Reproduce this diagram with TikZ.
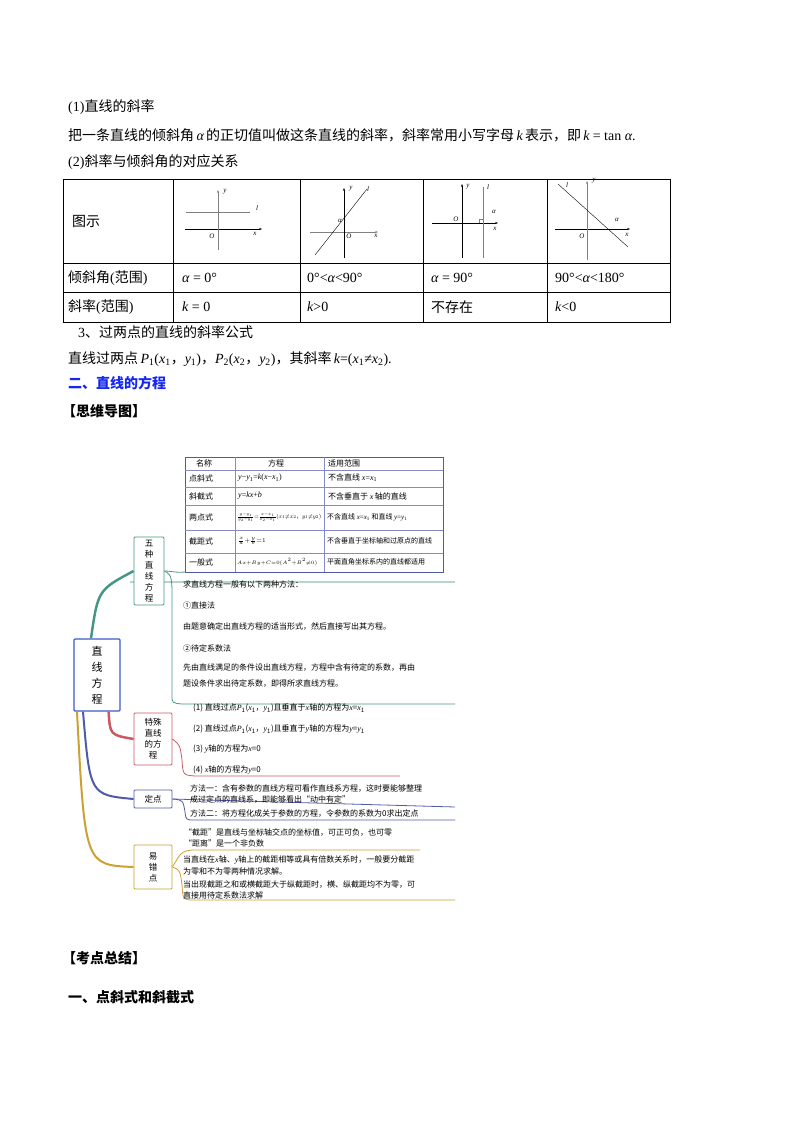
\documentclass[tikz,border=0pt]{standalone}
\usepackage{fontspec}
\setmainfont{Liberation Serif}
\newfontfamily\cjk{Noto Sans CJK SC}
\usetikzlibrary{arrows.meta}
\definecolor{teal1}{RGB}{70,150,135}
\definecolor{red1}{RGB}{200,90,100}
\definecolor{blu1}{RGB}{80,90,170}
\definecolor{gold1}{RGB}{205,160,50}
\definecolor{rootb}{RGB}{60,90,200}
\definecolor{hblue}{RGB}{20,40,240}
\tikzset{
 txt/.style={anchor=west,inner sep=0pt,font=\cjk\fontsize{14}{16}\selectfont},
 bt/.style={txt,font=\cjk\bfseries\fontsize{14}{16}\selectfont},
 mm/.style={anchor=west,inner sep=0pt,font=\cjk\fontsize{8}{10}\selectfont},
 bx/.style={draw,thick,rounded corners=1pt,fill=white,align=center,font=\cjk\fontsize{8.5}{11}\selectfont,inner sep=2pt},
 ax/.style={-{Stealth[length=3pt]},line width=0.6pt},
 sm/.style={inner sep=0pt,font=\itshape\fontsize{7}{8}\selectfont}
}
\begin{document}
\begin{tikzpicture}[x=1pt,y=-1pt]
\useasboundingbox (0,0) rectangle (800,1132);
% top text
\node[txt] (t1) at (68,107) {\rmfamily(1)\cjk 直线的斜率};
\node[txt] (t2) at (68,135) {把一条直线的倾斜角\,{\rmfamily\itshape α}\,的正切值叫做这条直线的斜率，斜率常用小写字母\,{\rmfamily\itshape k}\,表示，即\,{\rmfamily\itshape k} {\rmfamily = tan \itshape α}{\rmfamily .}};
\node[txt] (t3) at (68,162) {\rmfamily(2)\cjk 斜率与倾斜角的对应关系};
% table
\draw[line width=0.6pt] (63,179) rectangle (670,322);
\foreach \x in {173,300,423,547} \draw[line width=0.6pt] (\x,179)--(\x,322);
\draw[line width=0.6pt] (63,263)--(670,263) (63,292)--(670,292);
\node[txt] (c1) at (72,221) {图示};
\node[txt] (c2) at (68,278) {倾斜角\rmfamily(\cjk 范围\rmfamily)};
\node[txt] (c3) at (68,307) {斜率\rmfamily(\cjk 范围\rmfamily)};
\node[txt] (d1) at (182,278) {\rmfamily\itshape α\upshape\ = 0°};
\node[txt] (d2) at (307,278) {\rmfamily 0°<\itshape α\upshape<90°};
\node[txt] (d3) at (431,278) {\rmfamily\itshape α\upshape\ = 90°};
\node[txt] (d4) at (555,278) {\rmfamily 90°<\itshape α\upshape<180°};
\node[txt] (e1) at (182,307) {\rmfamily\itshape k\upshape\ = 0};
\node[txt] (e2) at (307,307) {\rmfamily\itshape k\upshape>0};
\node[txt] (e3) at (431,307) {不存在};
\node[txt] (e4) at (555,307) {\rmfamily\itshape k\upshape<0};
% graph 1
\draw[ax] (185,229)--(262,229); \draw[ax,gray] (218,250)--(218,190);
\draw[gray] (186,212)--(250,212);
\node[sm] at (257,208){l}; \node[sm] at (212,236){O}; \node[sm] at (255,234){x}; \node[sm] at (225,192){y};
% graph 2
\draw[ax,gray] (310,232)--(378,232); \draw[ax] (344,258)--(344,188);
\draw (315,255)--(367,189);
\node[sm] at (368,189){l}; \node[sm] at (349,236){O}; \node[sm] at (376,236){x}; \node[sm] at (351,189){y};
\node[sm] at (340,221){α};
% graph 3
\draw[ax] (432,223)--(498,223); \draw[ax] (462,258)--(462,184);
\draw[gray] (483,187)--(483,258); \draw[gray] (479,223)--(479,219)--(483,219);
\node[sm] at (488,187){l}; \node[sm] at (456,219){O}; \node[sm] at (495,229){x}; \node[sm] at (468,187){y};
\node[sm] at (494,212){α};
% graph 4
\draw[ax] (555,229)--(630,229); \draw[ax,gray] (587,260)--(587,181);
\draw (558,184)--(628,247);
\node[sm] at (567,185){l}; \node[sm] at (582,236){O}; \node[sm] at (627,235){x}; \node[sm] at (594,181){y};
\node[sm] at (617,220){α};
% formula lines
\node[txt] (s1) at (78,332) {\rmfamily 3\cjk 、过两点的直线的斜率公式};
\node[txt] (s2) at (68,359) {直线过两点\,{\rmfamily\itshape P\upshape\textsubscript{1}(\itshape x\upshape\textsubscript{1}}，{\rmfamily\itshape y\upshape\textsubscript{1})}，{\rmfamily\itshape P\upshape\textsubscript{2}(\itshape x\upshape\textsubscript{2}}，{\rmfamily\itshape y\upshape\textsubscript{2})}，其斜率\,{\rmfamily\itshape k\upshape =(\itshape x\upshape\textsubscript{1}≠\itshape x\upshape\textsubscript{2}\upshape).}};
\node[bt,text=hblue] (s3) at (68,383) {二、直线的方程};
\node[bt] (s4) at (62,411) {【思维导图】};
% ===== mind map =====
\draw[teal1!40,line width=1.5pt] (130,582)--(455,582);
% inner table
\draw[blu1,line width=0.8pt] (185,457) rectangle (443,572);
\foreach \y in {470,487,505,530,553} \draw[blu1!70] (185,\y)--(443,\y);
\draw[blu1!70] (235,457)--(235,572) (324,457)--(324,572);
\node[mm] at (196,463) {名称}; \node[mm] at (268,463) {方程}; \node[mm] at (328,463) {适用范围};
\node[mm] at (189,478) {点斜式}; \node[mm] at (238,478) {\rmfamily\itshape y\upshape−\itshape y\upshape\textsubscript{1}=\itshape k\upshape(\itshape x\upshape−\itshape x\upshape\textsubscript{1})};
\node[mm] at (328,478) {不含直线 {\rmfamily\itshape x\upshape=\itshape x\upshape\textsubscript{1}}};
\node[mm] at (189,496) {斜截式}; \node[mm] at (238,496) {\rmfamily\itshape y\upshape=\itshape kx\upshape+\itshape b};
\node[mm] at (328,496) {不含垂直于 {\rmfamily\itshape x}\,轴的直线};
\node[mm] at (189,517) {两点式};
\node[mm] at (237,517) {\resizebox{84pt}{!}{\rmfamily$\frac{y-y_1}{y_2-y_1}{=}\frac{x-x_1}{x_2-x_1}(x_1{\ne}x_2${\cjk，}$y_1{\ne}y_2)$}};
\node[mm,font=\cjk\fontsize{7}{9}\selectfont] at (327,517) {不含直线 {\rmfamily\itshape x\upshape=\itshape x\upshape\textsubscript{1}} 和直线 {\rmfamily\itshape y\upshape=\itshape y\upshape\textsubscript{1}}};
\node[mm] at (189,541) {截距式}; \node[mm] at (238,541) {\rmfamily\fontsize{6}{7}\selectfont$\frac{x}{a}{+}\frac{y}{b}{=}1$};
\node[mm,font=\cjk\fontsize{7}{9}\selectfont] at (327,541) {不含垂直于坐标轴和过原点的直线};
\node[mm] at (189,562) {一般式}; \node[mm] at (237,562) {\rmfamily\fontsize{5.5}{7}\selectfont$Ax{+}By{+}C{=}0(A^2{+}B^2{\ne}0)$};
\node[mm,font=\cjk\fontsize{7}{9}\selectfont] at (327,562) {平面直角坐标系内的直线都适用};
% root and branches
\node[bx,draw=rootb,line width=1.3pt,minimum width=46pt,minimum height=72pt,font=\cjk\fontsize{11}{16}\selectfont] (root) at (97,675) {直\\线\\方\\程};
\node[bx,draw=teal1,minimum width=30pt,minimum height=68pt] (b1) at (149,571) {五\\种\\直\\线\\方\\程};
\node[bx,draw=red1,minimum width=38pt,minimum height=52pt] (b2) at (153,739) {特殊\\直线\\的方\\程};
\node[bx,draw=blu1,minimum width=38pt,minimum height=18pt] (b3) at (153,799) {定点};
\node[bx,draw=gold1,minimum width=38pt,minimum height=44pt] (b4) at (153,867) {易\\错\\点};
\draw[teal1,line width=2.5pt] ([xshift=-6pt]root.north) .. controls (98,590) .. (b1.west);
\draw[red1,line width=2.5pt] ([xshift=-12pt]root.south east) .. controls (110,735) .. (b2.west);
\draw[blu1,line width=2pt] ([xshift=-14pt]root.south) .. controls (90,795) .. (b3.west);
\draw[gold1,line width=2pt] ([xshift=-20pt]root.south) .. controls (85,865) .. (b4.west);
% branch 1 brackets
\draw[teal1,line width=0.8pt] (b1.east) .. controls (172,571) and (175,573) .. (185,572);
\draw[teal1,line width=0.8pt] (b1.east) .. controls (172,575) and (172,578) .. (172,600) -- (172,695) .. controls (172,703) .. (182,704) -- (455,704);
\node[mm] at (183,584) {求直线方程一般有以下两种方法：};
\node[mm] at (183,605) {①直接法};
\node[mm] at (183,627) {由题意确定出直线方程的适当形式，然后直接写出其方程。};
\node[mm] at (183,648) {②待定系数法};
\node[mm] at (183,668) {先由直线满足的条件设出直线方程，方程中含有待定的系数，再由};
\node[mm] at (183,684) {题设条件求出待定系数，即得所求直线方程。};
% branch 2
\draw[red1,line width=0.8pt] (b2.east) .. controls (180,745) .. (182,760) .. controls (183,775) .. (195,776) -- (400,776);
\node[mm] at (193,708) {(1) 直线过点{\rmfamily\itshape P}\textsubscript{1}({\rmfamily\itshape x}\textsubscript{1}，{\rmfamily\itshape y}\textsubscript{1})且垂直于{\rmfamily\itshape x}轴的方程为{\rmfamily\itshape x}={\rmfamily\itshape x}\textsubscript{1}};
\node[mm] at (193,729) {(2) 直线过点{\rmfamily\itshape P}\textsubscript{1}({\rmfamily\itshape x}\textsubscript{1}，{\rmfamily\itshape y}\textsubscript{1})且垂直于{\rmfamily\itshape y}轴的方程为{\rmfamily\itshape y}={\rmfamily\itshape y}\textsubscript{1}};
\node[mm] at (193,749) {(3) {\rmfamily\itshape y}轴的方程为{\rmfamily\itshape x}=0};
\node[mm] at (193,770) {(4) {\rmfamily\itshape x}轴的方程为{\rmfamily\itshape y}=0};
% branch 3
\draw[blu1,line width=0.8pt] (b3.east) -- (455,807);
\draw[blu1,line width=0.8pt] (b3.east) .. controls (183,800) .. (185,812) .. controls (186,820) .. (195,820) -- (455,820);
\node[mm] at (190,789) {方法一：含有参数的直线方程可看作直线系方程，这时要能够整理};
\node[mm] at (190,800) {成过定点的直线系，即能够看出“动中有定”};
\node[mm] at (190,814) {方法二：将方程化成关于参数的方程，令参数的系数为0求出定点};
% branch 4
\draw[gold1,line width=0.8pt] (b4.east) .. controls (180,855) and (180,850) .. (195,850) -- (420,850);
\draw[gold1,line width=0.8pt] (b4.east) .. controls (180,870) .. (182,885) .. controls (183,900) .. (195,900) -- (455,900);
\node[mm] at (184,833) {“截距”是直线与坐标轴交点的坐标值，可正可负，也可零};
\node[mm] at (184,843) {“距离”是一个非负数};
\node[mm] at (183,860) {当直线在{\rmfamily\itshape x}轴、{\rmfamily\itshape y}轴上的截距相等或具有倍数关系时，一般要分截距};
\node[mm] at (183,871) {为零和不为零两种情况求解。};
\node[mm] at (183,885) {当出现截距之和或横截距大于纵截距时，横、纵截距均不为零，可};
\node[mm] at (183,895) {直接用待定系数法求解};
% bottom headings
\node[bt] (k1) at (62,958) {【考点总结】};
\node[bt] (k2) at (68,997) {一、点斜式和斜截式};
\end{tikzpicture}
\end{document}
